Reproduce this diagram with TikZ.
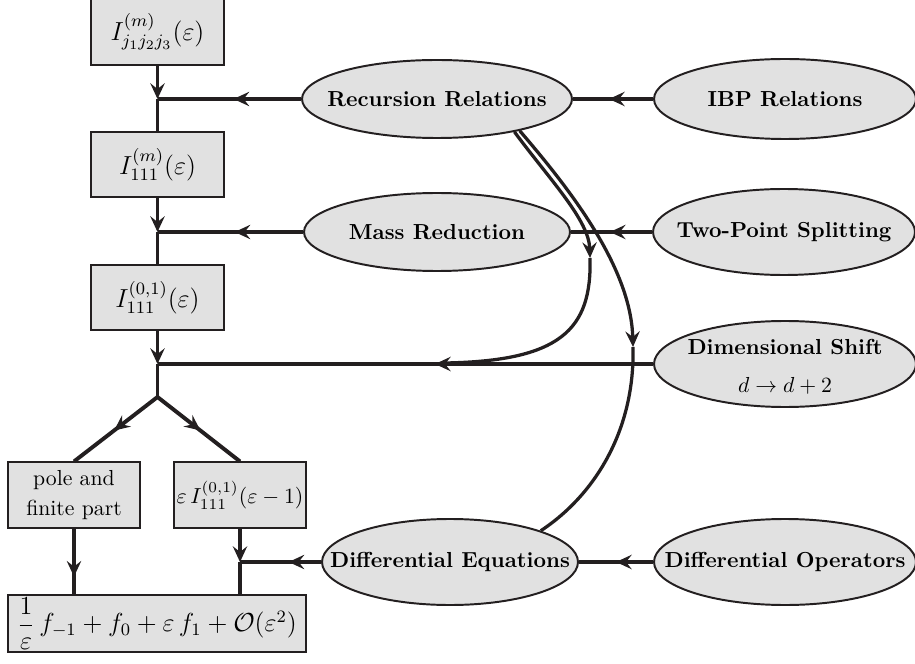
\documentclass[tikz,border=0pt]{standalone}
\usepackage{amsmath}
\usetikzlibrary{arrows.meta,shapes.geometric,decorations.markings}
\definecolor{ink}{HTML}{231F20}
\definecolor{boxfill}{HTML}{E1E1E1}
\newcommand{\zw}[1]{\makebox[0pt]{#1}}
\tikzset{
  box/.style={draw=ink, line width=0.5pt, fill=boxfill, rectangle, inner sep=0pt, align=center},
  ell/.style={draw=ink, line width=0.9pt, fill=boxfill, ellipse, inner sep=0pt, font=\bfseries},
  sz/.style 2 args={minimum width=#1*0.46pt, minimum height=#2*0.46pt},
  conn/.style={draw=ink, line width=1.8pt},
  curv/.style={draw=ink, line width=1.5pt},
  midarrow/.style={postaction={decorate}, decoration={markings, mark=at position #1 with {\arrow{>}}}},
}
\begin{document}
\begin{tikzpicture}[x=0.46pt, y=-0.46pt, >={Stealth[length=7.2pt,width=6.6pt,inset=2.6pt]}]
\useasboundingbox (0,0) rectangle (915,664);

% boxes
\node[box, sz={133}{66}] (A) at (157.5,32) {\large$I^{(m)}_{j_1j_2j_3}(\varepsilon)$};
\node[box, sz={133}{65}] (B) at (157.5,164.5) {\large$I^{(m)}_{111}(\varepsilon)$};
\node[box, sz={133}{65}] (C) at (157.5,297.5) {\large$I^{(0,1)}_{111}(\varepsilon)$};
\node[box, sz={132}{66}] (D) at (74,495) {pole and\\[1.5pt] finite part};
\node[box, sz={132}{66}] (E) at (240,495) {$\varepsilon\,I^{(0,1)}_{111}(\varepsilon-1)$};
\node[box, sz={298}{57}] (F) at (157,623.5) {\large$\dfrac{1}{\varepsilon}\,f_{-1}+f_0+\varepsilon\,f_1+\mathcal{O}(\varepsilon^2)$};

% ellipses
\node[ell, sz={270}{78}] (Rec) at (437,99) {\zw{Recursion Relations}};
\node[ell, sz={262}{80}] (IBP) at (785,99) {\zw{IBP Relations}};
\node[ell, sz={266}{78}] (Mass) at (437,232) {\zw{Mass Reduction}};
\node[ell, sz={262}{86}] (Two) at (784,232) {\zw{Two-Point Splitting}};
\node[ell, sz={262}{86}] (Dim) at (785,364) {\zw{\smash{\raisebox{-4.3pt}{\begin{tabular}{@{}c@{}}Dimensional Shift\\[5.5pt] \mdseries$d\to d+2$\end{tabular}}}}};
\node[ell, sz={256}{86}] (DEq) at (450,562) {\zw{Differential Equations}};
\node[ell, sz={262}{86}] (DOp) at (785,562) {\zw{Differential Operators}};

% junctions
\coordinate (j1) at (Rec.west -| A.south);
\coordinate (j2) at (Mass.west -| A.south);
\coordinate (j3) at (Dim.west -| A.south);
\coordinate (js) at (157.5,397);
\coordinate (jE) at (DEq.west -| E.south);
\coordinate (c1) at (590,258);
\coordinate (c2) at (633,347);
\coordinate (m1) at (445,363);

% main column
\draw[conn,->] (A) -- (j1);
\draw[conn] (j1) -- (B);
\draw[conn,->] (B) -- (j2);
\draw[conn] (j2) -- (C);
\draw[conn,->] (C) -- (j3);
\draw[conn] (j3) -- (js);
\draw[conn,midarrow=0.52] (js) -- (D.north);
\draw[conn,midarrow=0.52] (js) -- (E.north);
\draw[conn,midarrow=0.73] (D) -- (D.south |- F.north);
\draw[conn,->] (E) -- (jE);
\draw[conn] (jE) -- (E.south |- F.north);

% horizontal feeds
\draw[conn,midarrow=0.47] (Rec.west) -- (j1);
\draw[conn,midarrow=0.47] (Mass.west) -- (j2);
\draw[conn,midarrow=0.44] (Dim.west) -- (j3);
\draw[conn,midarrow=0.40] (DEq.west) -- (jE);
\draw[conn,midarrow=0.55] (IBP.west) -- (Rec.east);
\draw[conn,midarrow=0.52] (Two.west) -- (Mass.east);
\draw[conn,midarrow=0.50] (DOp.west) -- (DEq.east);

% curves from Recursion Relations
\draw[curv,->] (Rec.-23) .. controls (550,180) and (589,220) .. (c1);
\draw[curv] (c1) .. controls (592,330) and (560,361) .. (m1);
\draw[curv,->] (Rec.-21) .. controls (575,195) and (631,270) .. (c2);
\draw[curv] (c2) .. controls (635,430) and (595,495) .. (DEq.19);
\end{tikzpicture}
\end{document}
